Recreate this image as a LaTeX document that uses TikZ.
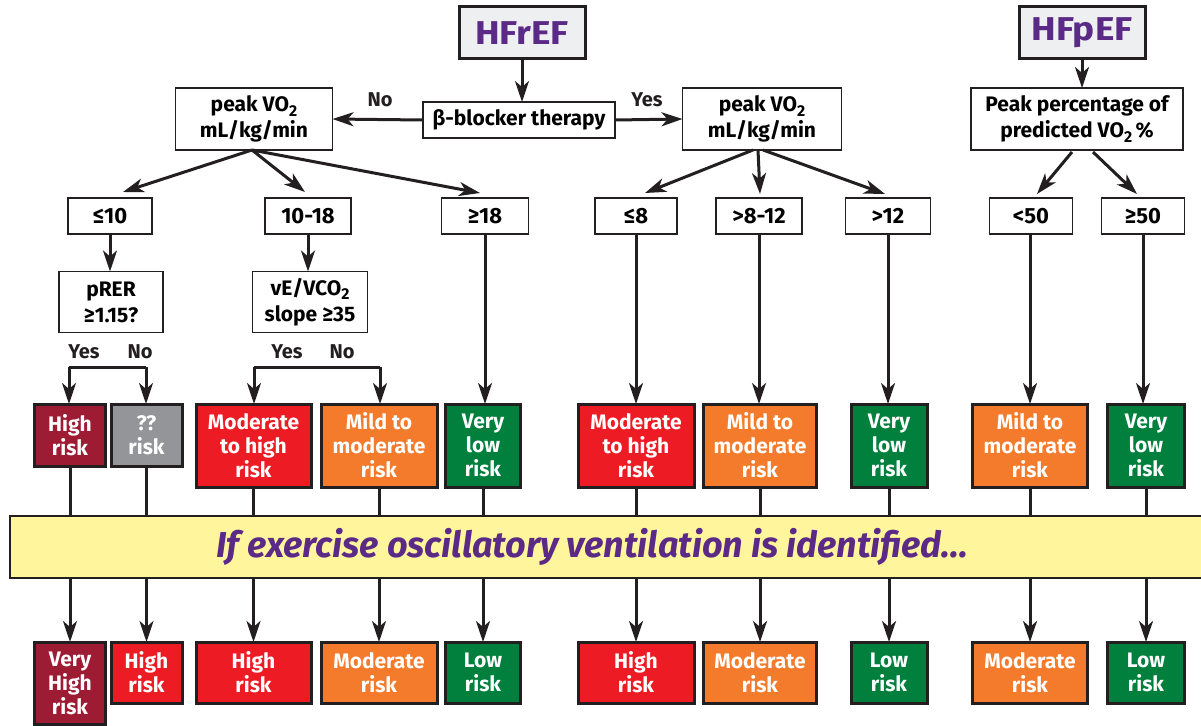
\documentclass[tikz,border=0pt]{standalone}
\usepackage{fontspec}
\setmainfont{Fira Sans}
\newfontfamily\hfont{Fira Sans}[FakeStretch=1.12]
\usetikzlibrary{arrows.meta,calc}
\definecolor{ink}{HTML}{231F20}
\definecolor{purp}{HTML}{5B2A86}
\definecolor{hfill}{HTML}{EEEFF1}
\definecolor{cmaroon}{HTML}{9E1B34}
\definecolor{cgray}{HTML}{939598}
\definecolor{cred}{HTML}{ED1C24}
\definecolor{corange}{HTML}{F47B2B}
\definecolor{cgreen}{HTML}{007F3D}
\definecolor{cyellow}{HTML}{FFF59D}
\newcommand{\subtwo}{\raisebox{-0.22em}{\scalebox{0.75}{2}}}
\begin{document}
\begin{tikzpicture}[x=1pt,y=-1pt,
  base/.style={inner sep=0pt, outer sep=0pt, align=center},
  wbox/.style={base, draw=ink, line width=1.4pt, fill=white, font=\fontsize{21}{26}\selectfont\bfseries},
  hbox/.style={base, draw=ink, line width=3pt, fill=hfill, text=purp, font=\hfont\fontsize{33}{36}\selectfont\bfseries},
  thr/.style={wbox, minimum height=36pt, font=\fontsize{22}{26}\selectfont\bfseries},
  risk/.style={base, draw=ink, line width=3pt, text=white, font=\fontsize{21}{24}\selectfont\bfseries},
  conn/.style={line width=3pt, draw=ink},
  arr/.style={conn, -{Stealth[length=21pt,width=14pt,inset=6pt]}},
  lbl/.style={inner sep=0pt, font=\fontsize{20}{24}\selectfont\bfseries, text=ink},
  bandbox/.style={base, draw=ink, line width=2.5pt, fill=cyellow}]
\useasboundingbox (0,0) rectangle (1201,725);

% top level
\node[hbox, minimum width=126pt, minimum height=52pt] (hfref) at (522,33) {HFrEF};
\node[wbox, minimum width=192pt, minimum height=36pt] (beta) at (519,120) {β-blocker therapy};
\node[wbox, minimum width=157pt, minimum height=62pt] (peakL) at (254,119) {peak VO\subtwo\\mL/kg/min};
\node[wbox, minimum width=159pt, minimum height=62pt] (peakR) at (762,119) {peak VO\subtwo\\mL/kg/min};
\node[hbox, minimum width=126pt, minimum height=52pt] (hfpef) at (1082,33) {HFpEF};
\node[wbox, minimum width=212pt, minimum height=62pt] (pct) at (1077,119) {Peak percentage of\\predicted VO\subtwo\,\%};

\node[lbl] (lno) at (380,100) {No};
\node[lbl] (lyes) at (647,100) {Yes};

% thresholds
\node[thr, minimum width=84pt] (le10) at (110,216) {≤10};
\node[thr, minimum width=86pt] (t1018) at (308,216) {10-18};
\node[thr, minimum width=87pt] (ge18) at (485,216) {≥18};
\node[thr, minimum width=82pt] (le8) at (636,216) {≤8};
\node[thr, minimum width=86pt] (t812) at (759,216) {>8-12};
\node[thr, minimum width=85pt] (gt12) at (888,216) {>12};
\node[thr, minimum width=83pt] (lt50) at (1031,216) {<50};
\node[thr, minimum width=83pt] (ge50) at (1143,216) {≥50};

% questions
\node[wbox, minimum width=104pt, minimum height=61pt] (prer) at (111,302) {pRER\\≥1.15?};
\node[wbox, minimum width=115pt, minimum height=61pt] (ve) at (310,302) {vE/VCO\subtwo\\slope ≥35};
\node[lbl] (y1) at (84,352) {Yes};
\node[lbl] (n1) at (140,352) {No};
\node[lbl] (y2) at (287,352) {Yes};
\node[lbl] (n2) at (342,352) {No};
\coordinate (bl1) at (69,367);
\coordinate (br1) at (146,367);
\coordinate (bl2) at (254,367);
\coordinate (br2) at (380,367);

% first risk row
\node[risk, fill=cmaroon, minimum width=71pt, minimum height=62pt] (r1) at (70,435) {High\\risk};
\node[risk, fill=cgray, minimum width=71pt, minimum height=62pt] (r2) at (146.5,435) {??\\risk};
\node[risk, fill=cred, minimum width=115pt, minimum height=83pt] (r3) at (253.5,445.5) {Moderate\\to high\\risk};
\node[risk, fill=corange, minimum width=116pt, minimum height=83pt] (r4) at (379,445.5) {Mild to\\moderate\\risk};
\node[risk, fill=cgreen, minimum width=75pt, minimum height=83pt] (r5) at (483,445.5) {Very\\low\\risk};
\node[risk, fill=cred, minimum width=116pt, minimum height=83pt] (r6) at (636,445.5) {Moderate\\to high\\risk};
\node[risk, fill=corange, minimum width=113pt, minimum height=83pt] (r7) at (760,445.5) {Mild to\\moderate\\risk};
\node[risk, fill=cgreen, minimum width=76pt, minimum height=83pt] (r8) at (889,445.5) {Very\\low\\risk};
\node[risk, fill=corange, minimum width=115pt, minimum height=83pt] (r9) at (1030,445.5) {Mild to\\moderate\\risk};
\node[risk, fill=cgreen, minimum width=77pt, minimum height=83pt] (r10) at (1146,445.5) {Very\\low\\risk};

% band
\node[bandbox, minimum width=1210pt, minimum height=62pt] (band) at (615,547) {};
\node[inner sep=0pt, text=purp, font=\fontsize{36}{40}\selectfont\bfseries\itshape] (bandtext) at (592,547) {If exercise oscillatory ventilation is identified...};

% bottom row
\node[risk, fill=cmaroon, minimum width=71pt, minimum height=82pt] (b1) at (70,683) {Very\\High\\risk};
\node[risk, fill=cred, minimum width=71pt, minimum height=61pt] (b2) at (146.5,672.5) {High\\risk};
\node[risk, fill=cred, minimum width=115pt, minimum height=61pt] (b3) at (253.5,672.5) {High\\risk};
\node[risk, fill=corange, minimum width=116pt, minimum height=61pt] (b4) at (379,672.5) {Moderate\\risk};
\node[risk, fill=cgreen, minimum width=75pt, minimum height=61pt] (b5) at (483,672.5) {Low\\risk};
\node[risk, fill=cred, minimum width=116pt, minimum height=61pt] (b6) at (636,672.5) {High\\risk};
\node[risk, fill=corange, minimum width=113pt, minimum height=61pt] (b7) at (760,672.5) {Moderate\\risk};
\node[risk, fill=cgreen, minimum width=76pt, minimum height=61pt] (b8) at (889,672.5) {Low\\risk};
\node[risk, fill=corange, minimum width=115pt, minimum height=61pt] (b9) at (1030,672.5) {Moderate\\risk};
\node[risk, fill=cgreen, minimum width=77pt, minimum height=61pt] (b10) at (1146,672.5) {Low\\risk};

% connectors top
\draw[arr] (hfref.south) -- (hfref.south |- beta.north);
\draw[arr] (beta.west) -- (peakL.east);
\draw[arr] (beta.east) -- (peakR.west);
\draw[arr] (hfpef.south) -- (hfpef.south |- pct.north);

\draw[arr] ($(peakL.south)+(-2,0)$) -- ($(le10.north)+(13,-6)$);
\draw[arr] ($(peakL.south)+(-2,0)$) -- ($(t1018.north)+(-3,-6)$);
\draw[arr] ($(peakL.south)+(-2,0)$) -- ($(ge18.north)+(-5,-5)$);
\draw[arr] ($(peakR.south)+(-9,0)$) -- ($(le8.north)+(9,-5)$);
\draw[arr] ($(peakR.south)+(-4,0)$) -- ($(t812.north)+(1,-4)$);
\draw[arr] ($(peakR.south)+(1,0)$) -- ($(gt12.north)+(-3,-4)$);
\draw[arr] ($(pct.south)+(-5,2)$) -- ($(lt50.north)+(6,-4)$);
\draw[arr] ($(pct.south)+(16,2)$) -- ($(ge50.north)+(-6,-4)$);

\draw[arr] (le10.south) -- (le10.south |- prer.north);
\draw[arr] (t1018.south) -- (t1018.south |- ve.north);
\draw[conn] (bl1) -- (br1);
\draw[conn] (bl2) -- (br2);
\draw[arr] (bl1) -- (bl1 |- r1.north);
\draw[arr] (br1) -- (br1 |- r2.north);
\draw[arr] (bl2) -- (bl2 |- r3.north);
\draw[arr] (br2) -- (br2 |- r4.north);
\draw[arr] (ge18.south) -- (ge18.south |- r5.north);
\draw[arr] (le8.south) -- (le8.south |- r6.north);
\draw[arr] (t812.south) -- (t812.south |- r7.north);
\draw[arr] (gt12.south) -- (gt12.south |- r8.north);
\draw[arr] ($(lt50.south)+(-1,0)$) -- ($(lt50.south |- r9.north)+(-1,0)$);
\draw[arr] (ge50.south) -- (ge50.south |- r10.north);

% through band
\foreach \i in {1,...,10} {
  \draw[conn] (r\i.south) -- (r\i.south |- band.north);
  \draw[arr] (r\i.south |- band.south) -- (b\i.north);
}
\end{tikzpicture}
\end{document}
